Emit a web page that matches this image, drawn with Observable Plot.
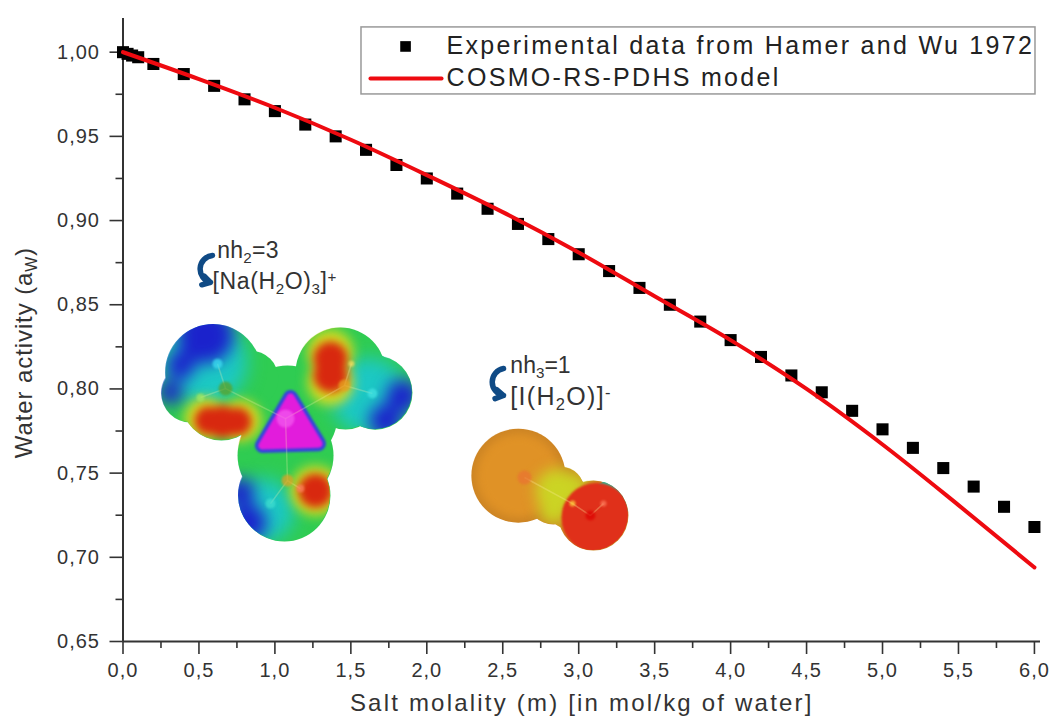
<!DOCTYPE html>
<html><head><meta charset="utf-8">
<script src="https://cdn.jsdelivr.net/npm/d3@7"></script>
<script src="https://cdn.jsdelivr.net/npm/@observablehq/plot@0.6"></script>
<style>html,body{margin:0;padding:0;background:#fff}svg{display:block}</style>
</head><body><div id="chart"></div>
<script>
// Experimental data
const expM = [0,0.03,0.06,0.1,0.2,0.4,0.6,0.8,1.0,1.2,1.4,1.6,1.8,2.0,2.2,2.4,2.6,2.8,3.0,3.2,3.4,3.6,3.8,4.0,4.2,4.4,4.6,4.8,5.0,5.2,5.4,5.6,5.8,6.0];
const expAw = [1.0,0.999,0.998,0.997,0.993,0.987,0.980,0.972,0.965,0.957,0.950,0.942,0.933,0.925,0.916,0.907,0.898,0.889,0.880,0.870,0.860,0.850,0.840,0.829,0.819,0.808,0.798,0.787,0.776,0.765,0.753,0.742,0.730,0.718];
// Model curve
const modelM = [0,0.5,1.0,1.5,2.0,2.5,3.0,3.5,4.0,4.5,5.0,5.5,6.0];
const modelAw = [1.0,0.984,0.967,0.948,0.927,0.905,0.881,0.855,0.829,0.800,0.767,0.731,0.694];
// Axis ticks
const xMajor = [0,0.5,1,1.5,2,2.5,3,3.5,4,4.5,5,5.5,6];
const xMinor = [0.25,0.75,1.25,1.75,2.25,2.75,3.25,3.75,4.25,4.75,5.25,5.75];
const yMajor = [0.65,0.70,0.75,0.80,0.85,0.90,0.95,1.00];
const yMinor = [0.675,0.725,0.775,0.825,0.875,0.925,0.975];
// Text
const xTitle = "Salt molality (m) [in mol/kg of water]";
const yTitle = "Water activity (a~W~)";
const legendLabels = ["Experimental data from Hamer and Wu 1972","COSMO-RS-PDHS model"];
// Illustration: surface of [Na(H2O)3]+ as [x, y, radius]
const naShape = [[.596,.8097,48],[.444,.7973,29],[.648,.7931,40],[1.083,.7842,50],[1.432,.8097,45],[1.662,.7978,37],[1.643,.808,22],[1.465,.7961,34],[1.070,.7604,48],[1.063,.7367,46],[.839,.8061,28]];
const naCyan = [[.543,.8157,42],[1.616,.796,38],[.918,.7278,32]];
const naBlue = [[.543,.8317,28],[.379,.8139,14],[.313,.798,12],[1.84,.796,16],[1.728,.7812,16],[.826,.7206,18],[.773,.7385,14]];
const naYellow = [[.543,.7824,21],[.773,.7812,21],[1.366,.8216,23],[1.366,.8038,23],[1.267,.7396,25]];
const naRed = [[.563,.7812,14],[.655,.7806,16],[.754,.7806,14],[1.366,.818,17],[1.366,.808,17],[1.267,.7396,17]];
const naCore = [[1.103,.7949],[.918,.7664],[1.287,.7675]];
const naBonds = [[1.07,.7824,.675,.8002],[.675,.8002,.622,.815],[.675,.8002,.51,.7949],[1.07,.7824,1.458,.802],[1.458,.802,1.642,.7973],[1.458,.802,1.504,.815],[1.07,.7824,1.083,.7456],[1.083,.7456,.971,.7319],[1.083,.7456,1.168,.7408]];
const naAtoms = [[1.07,.7824,9,"#f45cf0"],[.675,.8002,7,"#5f9e1e"],[.622,.815,5,"#3fe2f2"],[.51,.7949,4,"#a8e860"],[1.458,.802,6,"#e8a020"],[1.642,.7973,5,"#45e4e4"],[1.504,.815,3,"#ffe060"],[1.083,.7456,6,"#e8a020"],[.971,.7319,5,"#40e0d0"],[1.168,.7408,4,"#ff8060"]];
// Illustration: surface of [I(H2O)]-
const iShape = [[2.603,.7485,47],[2.880,.7396,24],[2.834,.7349,26],[2.946,.7307,24],[3.097,.7248,35]];
const iBody = [[2.603,.7485,42]];
const iYellow = [[2.86,.7396,22],[2.834,.7277,14],[2.979,.7426,12]];
const iGreen = [[3.21,.7337,20]];
const iRed = [[3.117,.7235,35]];
const iBonds = [[2.643,.7474,2.959,.7319],[2.959,.7319,3.077,.7248],[3.077,.7248,3.163,.7319]];
const iAtoms = [[2.643,.7474,7,"#ea7232"],[3.077,.7248,5,"#dd0000"],[2.959,.7319,3,"#ffe040"],[3.163,.7319,3,"#ff8060"]];
const notes = [[.62,.8822,"nh~2~=3",23,.3],[.59,.8638,"[Na(H~2~O)~3~]^+^",23,.6],[2.55,.8139,"nh~3~=1",23,0],[2.55,.7955,"[I(H~2~O)]^-^",25,1.3]];
const arrows = [[.589,.8793,.576,.8633],[2.505,.8121,2.505,.7961]];

const INK = "#333";
const NS = "http://www.w3.org/2000/svg";
const rowsOf = a => a.map(([x,y,r]) => ({x,y,r}));

const styled = spacing => (index, scales, values, dims, ctx, next) => {
  const g = next(index, scales, values, dims, ctx);
  g.setAttribute("letter-spacing", spacing);
  g.querySelectorAll("text").forEach(t => {
    const src = t.textContent, fs = parseFloat(g.getAttribute("font-size") || t.getAttribute("font-size") || 20);
    if(!/[~^]/.test(src)) return;
    t.textContent = "";
    let shift = 0;
    src.split(/(~[^~]+~|\^[^^]+\^)/).filter(Boolean).forEach(p => {
      const span = document.createElementNS(NS,"tspan");
      const sub = p[0]==="~", sup = p[0]==="^";
      const target = sub ? 5 : sup ? -7 : 0;
      span.setAttribute("dy", target-shift);
      shift = target;
      if(sub||sup) span.setAttribute("font-size", fs*0.66);
      span.textContent = (sub||sup) ? p.slice(1,-1) : p;
      t.appendChild(span);
    });
  });
  return g;
};
const clipDef = (id, shape) => (index, {x,y}) => {
  const d = document.createElementNS(NS,"defs"), c = document.createElementNS(NS,"clipPath");
  c.setAttribute("id",id);
  shape.forEach(([a,b,r]) => {
    const k = document.createElementNS(NS,"circle");
    k.setAttribute("cx",x(a)); k.setAttribute("cy",y(b)); k.setAttribute("r",r);
    c.appendChild(k);
  });
  d.appendChild(c); return d;
};
const clipped = id => (index, scales, values, dims, ctx, next) => {
  const g = next(index, scales, values, dims, ctx);
  const w = document.createElementNS(NS,"g");
  w.setAttribute("clip-path",`url(#${id})`);
  w.appendChild(g);
  return w;
};
const blob = (arr, fill, blur, id) => Plot.dot(rowsOf(arr), {x:"x", y:"y", r:{value:"r",scale:null}, fill, stroke:"none", imageFilter: blur?`blur(${blur}px)`:undefined, render: id?clipped(id):undefined});
const note = (row) => Plot.text([row],{x:"0",y:"1",text:"2",textAnchor:"start",fontSize:row[3],fill:INK,render:styled(row[4])});
const modelRows = modelM.map((m,i)=>({m,a:modelAw[i]}));

const plot = Plot.plot({
  width:1053, height:718,
  marginLeft:122.5, marginRight:13, marginTop:18, marginBottom:77,
  style:{background:"#fff", fontFamily:"'Liberation Sans', Arial, sans-serif", color:INK},
  x:{domain:[0,6.04]}, y:{domain:[0.65,1.02]},
  marks:[
    clipDef("naClip", naShape), clipDef("iClip", iShape),
    // Na complex
    blob(naShape,"#2fcc52",0),
    blob(naCyan,"#1cc8c4",9,"naClip"),
    blob(naBlue,"#1b22cc",8,"naClip"),
    blob(naYellow,"#d8dc20",6,"naClip"),
    blob(naRed,"#d8280f",4,"naClip"),
    Plot.line(naCore,{x:"0",y:"1",curve:"linear-closed",fill:"#3344dd",stroke:"#3344dd",strokeWidth:15,strokeLinejoin:"round",imageFilter:"blur(1px)"}),
    Plot.line(naCore,{x:"0",y:"1",curve:"linear-closed",fill:"#e21cdc",stroke:"#e21cdc",strokeWidth:8,strokeLinejoin:"round",imageFilter:"blur(0.8px)"}),
    Plot.link(naBonds,{x1:"0",y1:"1",x2:"2",y2:"3",stroke:"#fff8b0",strokeWidth:1.5,strokeOpacity:.25}),
    Plot.dot(naAtoms,{x:"0",y:"1",r:{value:"2",scale:null},fill:{value:"3",scale:null},fillOpacity:.7,imageFilter:"blur(1.2px)"}),
    // I complex
    blob(iShape,"#cc8424",0),
    blob(iBody,"#e09226",4,"iClip"),
    blob(iGreen,"#20c0a0",0,"iClip"),
    blob(iYellow,"#cbd424",7,"iClip"),
    blob(iRed,"#e0301a",1,"iClip"),
    Plot.link(iBonds,{x1:"0",y1:"1",x2:"2",y2:"3",stroke:"#fff0a0",strokeWidth:1.5,strokeOpacity:.3}),
    Plot.dot(iAtoms,{x:"0",y:"1",r:{value:"2",scale:null},fill:{value:"3",scale:null},fillOpacity:.7,imageFilter:"blur(1.2px)"}),
    // Annotations
    Plot.arrow(arrows,{x1:"0",y1:"1",x2:"2",y2:"3",bend:-80,stroke:"#0f4a85",strokeWidth:5.5,headLength:9}),
    ...notes.map(note),
    // Axes
    Plot.axisX({ticks:xMajor,tickSize:13,tickPadding:8,fontSize:20,tickFormat:d=>d3.format(".1f")(d).replace(".",","),label:null,stroke:INK,strokeWidth:1.6,fill:INK}),
    Plot.axisX({ticks:xMinor,tickSize:7,tickFormat:()=>"",label:null,stroke:INK,strokeWidth:1.6}),
    Plot.axisY({ticks:yMajor,tickSize:13,tickPadding:10,fontSize:20,tickFormat:d=>d3.format(".2f")(d).replace(".",","),label:null,stroke:INK,strokeWidth:1.6,fill:INK}),
    Plot.axisY({ticks:yMinor,tickSize:7,tickFormat:()=>"",label:null,stroke:INK,strokeWidth:1.6}),
    Plot.ruleX([0],{y1:0.65,y2:1.02,stroke:INK,strokeWidth:2}),
    Plot.ruleY([0.65],{x1:0,x2:6.04,stroke:INK,strokeWidth:2}),
    Plot.text([xTitle],{x:3.02,y:.6131,text:d=>d,fontSize:24,fill:INK,render:styled(2.2)}),
    Plot.text([yTitle],{x:-.648,y:.8216,text:d=>d,rotate:-90,fontSize:24,fill:INK,render:styled(.9)}),
    // Data
    Plot.dot(expM.map((m,i)=>({m,a:expAw[i]})),{x:"m",y:"a",symbol:"square",r:6.8,fill:"#000"}),
    Plot.line(modelRows,{x:"m",y:"a",stroke:"#ee0a10",strokeWidth:4,curve:"monotone-x"}),
    // Legend
    Plot.rect([0],{x1:1.570,x2:6.007,y1:1.0147,y2:.9749,fill:"#fff",stroke:"#999",strokeWidth:1.5}),
    Plot.dot([0],{x:1.86,y:1.0034,symbol:"square",r:6,fill:"#000"}),
    Plot.line([[1.629,.9844],[2.097,.9844]],{x:"0",y:"1",stroke:"#ee0a10",strokeWidth:4}),
    Plot.text(legendLabels,{x:2.13,y:(d,i)=>i?.9844:1.0034,text:d=>d,textAnchor:"start",fontSize:25,fill:"#222",render:styled(2.3)})
  ]
});
d3.select(plot).selectAll('[aria-label$="tick label"]').attr("letter-spacing",1);
document.getElementById("chart").appendChild(plot);
</script></body></html>
